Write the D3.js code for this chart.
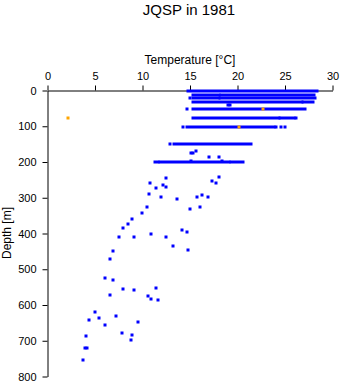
<!DOCTYPE html>
<html><head><meta charset="utf-8">
<script src="https://cdn.jsdelivr.net/npm/d3@7"></script>
<style>body{margin:0;background:#fff}svg{display:block}text{font-family:"Liberation Sans",Arial,sans-serif}</style>
</head><body>
<svg id="c" width="341" height="384"></svg>
<script>
// Dense horizontal bands (many samples at the same depth): depth, min temp, max temp
const bandDepth = [0, 13, 13, 22, 22, 31, 31, 51, 76, 76, 101, 151, 200, 200, 200];
const bandTmin  = [14.8, 15.3, 18.3, 15.3, 18.2, 15.3, 26.9, 15.3, 15.3, 24.5, 14.7, 13.3, 11.3, 11.8, 19.3];
const bandTmax  = [28.4, 18.0, 28.1, 18.1, 28.2, 26.8, 27.9, 27.1, 24.4, 25.9, 23.8, 21.4, 11.6, 19.1, 20.6];

// Individual samples (blue)
const pointTemp  = [15.0, 19.0, 19.2, 14.7, 26.2, 14.3, 24.0, 24.6, 25.0, 12.9, 15.1, 15.3, 15.6, 17.0, 18.1, 15.1, 18.4,
  18.0, 17.3, 17.7, 12.5, 10.8, 12.2, 12.5, 11.4, 10.7, 16.3, 11.9, 15.7, 16.9, 13.6, 10.5, 16.1, 15.0,
  9.9, 8.9, 8.5, 7.9, 14.2, 14.7, 10.9, 9.1, 12.5, 7.5, 13.2, 14.8, 6.9, 6.6, 6.0, 6.9, 11.4, 7.9, 9.1,
  6.6, 10.6, 10.9, 11.6, 5.0, 7.2, 5.4, 4.4, 9.5, 6.0, 7.8, 8.9, 4.0, 8.8, 3.9, 4.2, 3.7];
const pointDepth = [22, 41, 41, 51, 76, 101, 101, 101, 101, 151, 175, 175, 170, 187, 185, 197, 197,
  242, 253, 258, 245, 258, 264, 269, 272, 289, 292, 297, 297, 297, 303, 325, 325, 331,
  343, 359, 373, 384, 389, 397, 401, 411, 411, 411, 435, 446, 448, 471, 524, 530, 553, 555, 559,
  572, 576, 583, 585, 619, 632, 637, 641, 647, 655, 678, 683, 686, 697, 720, 720, 753];

// Highlighted samples (orange)
const orangeTemp  = [2.2, 22.7, 20.2];
const orangeDepth = [76, 51, 101];

const xTicks = [0, 5, 10, 15, 20, 25, 30];
const yTicks = [0, 100, 200, 300, 400, 500, 600, 700, 800];

const svg = d3.select("#c");
const x = d3.scaleLinear().domain([0, 30]).range([47.5, 332.5]);
const y = d3.scaleLinear().domain([0, 800]).range([90.5, 376.5]);

const blue = "#0000ff", orange = "#ffa500";

svg.append("text").attr("x", 189).attr("y", 15).attr("text-anchor", "middle")
  .attr("font-size", 15).text("JQSP in 1981");
svg.append("text").attr("x", 190).attr("y", 64).attr("text-anchor", "middle")
  .attr("font-size", 12).text("Temperature [°C]");
svg.append("text").attr("transform", "translate(11,233) rotate(-90)").attr("text-anchor", "middle")
  .attr("font-size", 12).text("Depth [m]");

const gx = svg.append("g").attr("transform", "translate(0,90.5)")
  .call(d3.axisTop(x).tickValues(xTicks).tickSize(5).tickSizeOuter(0).tickPadding(6).tickFormat(d3.format("d")));
const gy = svg.append("g").attr("transform", "translate(47.5,0)")
  .call(d3.axisLeft(y).tickValues(yTicks).tickSize(5).tickSizeOuter(0).tickPadding(6).tickFormat(d3.format("d")));
[gx, gy].forEach(g => {
  g.selectAll("text").attr("font-size", 11).attr("font-family", '"Liberation Sans",Arial,sans-serif').attr("fill", "#000");
  g.selectAll("line,path").attr("stroke", "#000");
});

// bands
svg.append("g").selectAll("rect").data(d3.range(bandDepth.length)).join("rect")
  .attr("x", i => Math.round(x(bandTmin[i])) - 1.5)
  .attr("y", i => Math.round(y(bandDepth[i])) - 1.5)
  .attr("width", i => Math.round(x(bandTmax[i])) - Math.round(x(bandTmin[i])) + 3)
  .attr("height", 3).attr("fill", blue);

// points
svg.append("g").selectAll("rect").data(d3.range(pointTemp.length)).join("rect")
  .attr("x", i => Math.round(x(pointTemp[i])) - 1.5)
  .attr("y", i => Math.round(y(pointDepth[i])) - 1.5)
  .attr("width", 3).attr("height", 3).attr("fill", blue);

svg.append("g").selectAll("rect").data(d3.range(orangeTemp.length)).join("rect")
  .attr("x", i => Math.round(x(orangeTemp[i])) - 1.5)
  .attr("y", i => Math.round(y(orangeDepth[i])) - 1.5)
  .attr("width", 3).attr("height", 3).attr("fill", orange);
</script>
</body></html>
